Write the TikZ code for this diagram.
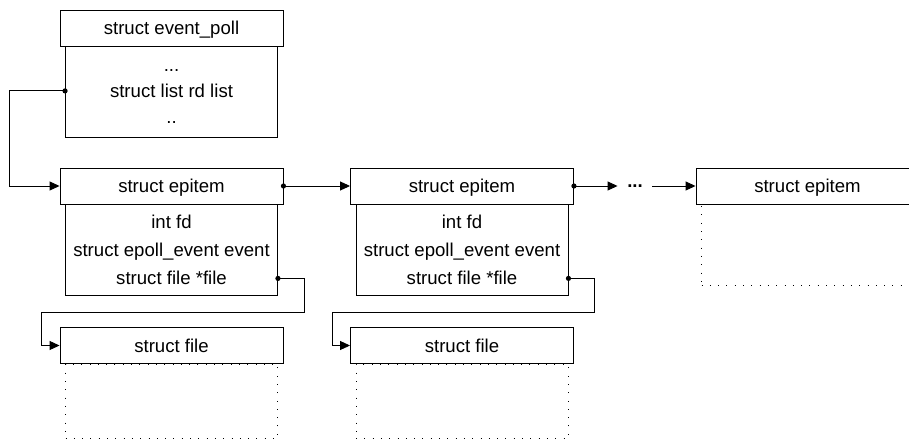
\documentclass[tikz,border=0pt]{standalone}
\usepackage{fontspec}
\setmainfont{Liberation Sans}
\usetikzlibrary{arrows.meta,positioning}

\begin{document}
\begin{tikzpicture}[
  x=1pt, y=-1pt,
  node distance=0pt,
  every node/.style={font=\fontsize{18.6}{28}\selectfont, inner sep=0pt},
  head/.style={draw, line width=0.9pt, minimum width=223pt, minimum height=36pt, text height=17pt, text depth=4pt},
  body/.style={draw, line width=0.9pt, minimum width=212pt, minimum height=91pt, align=center},
  blank/.style={draw, line width=0.9pt, dash pattern=on 0.9pt off 7.4pt, minimum width=212pt},
  link/.style={line width=0.9pt, -{Triangle[length=10pt, width=9pt]}}
]
\useasboundingbox (0,0) rectangle (909,446);
\clip (0,0) rectangle (909,446);

% event poll
\node[head] (ev) at (171.5,28) {struct event\_poll};
\node[body, below=of ev, font=\fontsize{18.6}{26}\selectfont] (evb) {\strut...\\ \strut struct list rd list\\ \strut ..};
\coordinate (rd) at ([yshift=1.5pt]evb.west);

% epitems with their files
\foreach \i/\x in {1/171.5, 2/462} {
  \node[head] (ep\i) at (\x,186) {struct epitem};
  \node[body, below=of ep\i] (epb\i) {\strut int fd\\ \strut struct epoll\_event event\\ \strut struct file *file};
  \coordinate (fp\i) at ([yshift=-28pt]epb\i.east);
  \node[head] (fl\i) at (\x,345.5) {struct file};
  \node[blank, below=of fl\i, minimum height=74pt] (flb\i) {};
}
\node[head] (ep3) at (807.5,186) {struct epitem};
\node[blank, below=of ep3, minimum height=81pt] (epb3) {};
\node[inner xsep=9.5pt] (more) at (635,186) {\textbf{...}};

\draw[link] (rd) -- ++(-56,0) |- (ep1.west);
\draw[link] (ep1.east) -- (ep2.west);
\draw[link] (ep2.east) -- (more.west);
\draw[link] (more.east) -- (ep3.west);
\draw[link] (fp1) -- ++(26,0) -- ++(0,34.5) -- ++(-263,0) |- (fl1.west);
\draw[link] (fp2) -- ++(26,0) -- ++(0,34.5) -- ++(-262,0) |- (fl2.west);

\foreach \p in {rd, ep1.east, ep2.east, fp1, fp2}
  \fill (\p) circle (2.6pt);
\end{tikzpicture}
\end{document}
